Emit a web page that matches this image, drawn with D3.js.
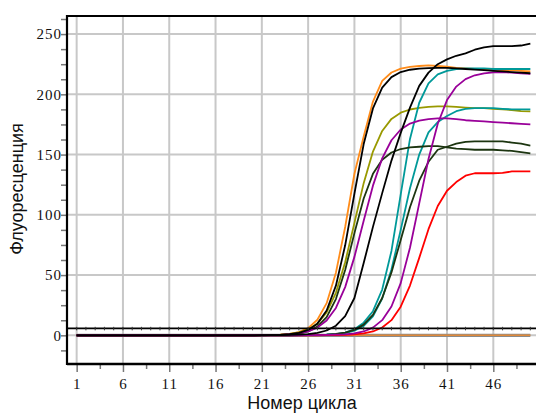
<!DOCTYPE html>
<html><head><meta charset="utf-8">
<script src="https://cdn.jsdelivr.net/npm/d3@7"></script>
<style>html,body{margin:0;padding:0;background:#fff;} svg{display:block;}</style>
</head><body>
<svg id="chart" width="536" height="414"></svg>
<script>
// ---- data ----
const cycles = [1,2,3,4,5,6,7,8,9,10,11,12,13,14,15,16,17,18,19,20,21,22,23,24,25,26,27,28,29,30,31,32,33,34,35,36,37,38,39,40,41,42,43,44,45,46,47,48,49,50];
const xTickLabels = [1,6,11,16,21,26,31,36,41,46];
const yTickLabels = [0,50,100,150,200,250];
const thresholdValue = 5.8;
const xTitle = "Номер цикла";
const yTitle = "Флуоресценция";

const negativeCtrl = [0,0,0,0,0,0,0,0,0,0,0,0,0,0,0,0,0,0,0,0,0,0,0,0,0,0,0,0,0,0,0,0,0,0,0,0,0,0,0,0,0,0,0,0,0,0,0,0,0,0];
const orangeSeries = [0,0,0,0,0,0,0,0,0,0,0,0,0,0,0,0,0,0,0,0,0.1,0.3,0.6,1.2,2.7,6.0,12.9,26.7,51.9,89.9,134.1,165,194,211.1,218.1,221.3,222.8,223.5,224,223.5,223,222,221.5,221,221,220.5,220,220,219.5,219];
const olivesSeries = [0,0,0,0,0,0,0,0,0,0,0,0,0,0,0,0,0,0,0,0,0.1,0.3,0.6,1.2,2.4,4.9,9.7,19.0,35.3,60.7,93.3,126.3,152.5,169.6,179.6,184.8,187.4,188.7,189.5,190,190,189.5,189,188.5,188.5,188,187.5,187,186,185.8];
const tealBSeries = [0,0,0,0,0,0,0,0,0,0,0,0,0,0,0,0,0,0,0,0,0,0,0,0,0.1,0.2,0.3,0.5,1,1.8,3.8,7.8,15.7,30.5,54.6,87.5,122,150,168.4,177,182,186,187.9,188.5,188.5,188.5,188,187.5,187.5,187.5];
const tealASeries = [0,0,0,0,0,0,0,0,0,0,0,0,0,0,0,0,0,0,0,0,0,0,0,0,0.1,0.2,0.3,0.5,1,2.2,5,10.5,20,38,70,117,163,193,209,216.5,219.5,221,221.5,221.5,221.5,221,221,221,221,221];
const darkGreenBSeries = [0,0,0,0,0,0,0,0,0,0,0,0,0,0,0,0,0,0,0,0,0,0,0,0,0.1,0.2,0.3,0.6,1.1,2.3,4.5,8.9,17,31,52.2,79.1,106.3,128.3,144,154,156.5,159,160.5,161,161,161,161,160,159,157.5];
const darkGreenASeries = [0,0,0,0,0,0,0,0,0,0,0,0,0,0,0,0,0,0,0,0,0.1,0.1,0.3,0.7,1.5,3.3,7.2,15.1,30.1,54.2,84.8,113.5,134,145.7,151.7,154.6,156,156.5,157,157,156,155,154.5,154,154,154,153.5,153,152,151];
const redSeries = [0,0,0,0,0,0,0,0,0,0,0,0,0,0,0,0,0,0,0,0,0,0,0,0,0,0,0,0.1,0.2,0.4,0.8,1.6,3.2,6.5,12.6,23.8,41.3,64.3,88.1,107.3,120,127.2,132.5,134.5,134.5,134.5,134.8,136,136,136];
const purpleBSeries = [0,0,0,0,0,0,0,0,0,0,0,0,0,0,0,0,0,0,0,0,0,0,0,0,0,0.1,0.2,0.3,0.5,0.8,1.6,3.2,6.4,12.6,23.9,43.3,72.7,109.5,146.3,175.6,195.2,206.4,212.6,215.8,217.4,218.2,218.5,218,217.5,217];
const purpleASeries = [0,0,0,0,0,0,0,0,0,0,0,0,0,0,0,0,0,0,0,0,0.1,0.2,0.4,0.9,1.7,3.3,6.4,12.3,22.7,40,65.1,95.1,124.2,146.9,161.9,170.8,175.7,178.2,179.5,180,180,179.5,178.5,178,177.5,177,176.5,176,175.5,175];
const blackBSeries = [0,0,0,0,0,0,0,0,0,0,0,0,0,0,0,0,0,0,0,0,0,0.1,0.2,0.4,0.7,1,2,4,8,16,31,60,90,118,145,168,189,207,218,225,229,232,234,237,239,240,240,240,240.5,242];
const blackASeries = [0,0,0,0,0,0,0,0,0,0,0,0,0,0,0,0,0,0,0,0,0.1,0.2,0.4,0.9,2.0,4.5,9.7,20.6,41.2,74.7,117.6,158.7,188.3,205.5,214.3,218.5,220.4,221.3,221.8,222,222,221.5,221,220.5,220,219.5,219,218.5,218,217.5];

const curveList = [orangeSeries, olivesSeries, tealBSeries, tealASeries, darkGreenBSeries, darkGreenASeries, redSeries, purpleBSeries, purpleASeries, blackBSeries, blackASeries];
const curveColors = ["#ff8c1a", "#999900", "#009999", "#009999", "#1c3510", "#1c3510", "#ff0000", "#990099", "#990099", "#000000", "#000000"];

// ---- chart ----
const svg = d3.select("#chart");
const L = 67, R = 536, T = 16, B = 364;
const x = d3.scaleLinear().domain([0, 51]).range([67.4, 539.6]);
const y = d3.scaleLinear().domain([-23.8, 265]).range([B, T]);

// gridlines
svg.append("g").selectAll("line").data(xTickLabels).join("line")
  .attr("x1", d => x(d)).attr("x2", d => x(d)).attr("y1", T).attr("y2", B)
  .attr("stroke", "#c8c8c8").attr("stroke-width", 2);
svg.append("g").selectAll("line").data(yTickLabels).join("line")
  .attr("x1", L).attr("x2", R).attr("y1", d => y(d)).attr("y2", d => y(d))
  .attr("stroke", "#c8c8c8").attr("stroke-width", 2);

const line = d3.line().x((d, i) => x(cycles[i])).y(d => y(d));

// negative control flat line
svg.append("path").datum(negativeCtrl).attr("d", line).attr("fill", "none")
  .attr("stroke", "#8a8a8a").attr("stroke-width", 3.2);
svg.append("path").datum(negativeCtrl).attr("d", line).attr("fill", "none")
  .attr("stroke", "#e08a3a").attr("stroke-width", 1.4);

// curves
curveList.forEach((s, k) => {
  svg.append("path").datum(s).attr("d", line).attr("fill", "none")
    .attr("stroke", curveColors[k]).attr("stroke-width", 1.8)
    .attr("stroke-linejoin", "round");
});

// threshold line
svg.append("line").attr("x1", L).attr("x2", R)
  .attr("y1", y(thresholdValue)).attr("y2", y(thresholdValue))
  .attr("stroke", "#000").attr("stroke-width", 1.6);
svg.append("g").selectAll("line").data(cycles).join("line")
  .attr("x1", d => x(d)).attr("x2", d => x(d))
  .attr("y1", y(thresholdValue) - 1.5).attr("y2", y(thresholdValue) + 2)
  .attr("stroke", "#333").attr("stroke-width", 1);

// y axis ticks
const yMinor = d3.range(-12.5, 265, 12.5);
const yTickAxis = svg.append("g").attr("transform", `translate(${L},0)`)
  .call(d3.axisLeft(y).tickValues(yMinor).tickSize(6).tickFormat(""));
yTickAxis.select(".domain").remove();
yTickAxis.selectAll("line").attr("stroke", "#777").attr("stroke-width", 1.5);

const yLab = svg.append("g").attr("transform", `translate(${L},0)`)
  .call(d3.axisLeft(y).tickValues(yTickLabels).tickSize(0).tickPadding(5));
yLab.select(".domain").remove();
yLab.selectAll("text").attr("font-family", "'Liberation Serif','Times New Roman',serif")
  .attr("font-size", 15).attr("fill", "#111").attr("letter-spacing", "1px");

// x axis ticks
const xMinor = d3.range(3.5, 51, 5);
const xMin = svg.append("g").attr("transform", `translate(0,${B})`)
  .call(d3.axisBottom(x).tickValues(xMinor).tickSize(5).tickFormat(""));
xMin.select(".domain").remove();
xMin.selectAll("line").attr("stroke", "#777").attr("stroke-width", 1.5);

const xMaj = svg.append("g").attr("transform", `translate(0,${B})`)
  .call(d3.axisBottom(x).tickValues(xTickLabels).tickSize(8).tickPadding(6));
xMaj.select(".domain").remove();
xMaj.selectAll("line").attr("stroke", "#777").attr("stroke-width", 1.5);
xMaj.selectAll("text").attr("font-family", "'Liberation Serif','Times New Roman',serif")
  .attr("font-size", 15).attr("fill", "#111").attr("letter-spacing", "1px");

// frame
svg.append("line").attr("x1", L).attr("x2", L).attr("y1", T - 1).attr("y2", B + 1)
  .attr("stroke", "#000").attr("stroke-width", 2.2);
svg.append("line").attr("x1", L).attr("x2", R).attr("y1", T).attr("y2", T)
  .attr("stroke", "#000").attr("stroke-width", 2);
svg.append("line").attr("x1", L).attr("x2", R).attr("y1", B).attr("y2", B)
  .attr("stroke", "#000").attr("stroke-width", 2.4);

// titles
svg.append("text").attr("x", 302).attr("y", 409).attr("text-anchor", "middle")
  .attr("font-family", "'Liberation Sans',Arial,sans-serif").attr("font-size", 18)
  .attr("fill", "#111").text(xTitle);
svg.append("text").attr("transform", "translate(23,189) rotate(-90)").attr("text-anchor", "middle")
  .attr("font-family", "'Liberation Sans',Arial,sans-serif").attr("font-size", 18)
  .attr("fill", "#111").text(yTitle);
</script>
</body></html>
